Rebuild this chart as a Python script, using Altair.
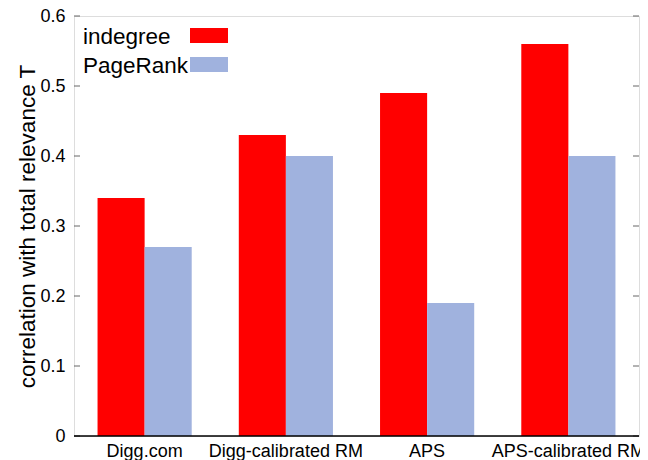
import altair as alt
import pandas as pd

categories = ["Digg.com", "Digg-calibrated RM", "APS", "APS-calibrated RM"]
series = ["indegree", "PageRank"]
indegree = [0.34, 0.43, 0.49, 0.56]
pagerank = [0.27, 0.40, 0.19, 0.40]
colors = ["#ff0000", "#a0b2de"]
y_ticks = [0, 0.1, 0.2, 0.3, 0.4, 0.5, 0.6]
y_title = "correlation with total relevance T"

W, H = 565, 420
FONT = "Liberation Sans"

rows = []
for c, a, b in zip(categories, indegree, pagerank):
    rows.append({"category": c, "series": series[0], "value": a})
    rows.append({"category": c, "series": series[1], "value": b})
df = pd.DataFrame(rows)
ticks_df = pd.DataFrame({"t": y_ticks})

yscale = alt.Scale(domain=[0, 0.6], nice=False, zero=True)
xscale = alt.Scale(paddingInner=1/3, paddingOuter=1/6)
offscale = alt.Scale(paddingInner=0, paddingOuter=0)

bars = alt.Chart(df).mark_bar(strokeWidth=0).encode(
    x=alt.X("category:N", sort=categories, scale=xscale,
            axis=alt.Axis(title=None, labelAngle=0, ticks=False, domain=False,
                          labelFontSize=18, labelFont=FONT, labelColor="black",
                          labelPadding=6)),
    xOffset=alt.XOffset("series:N", sort=series, scale=offscale),
    y=alt.Y("value:Q", scale=yscale,
            axis=alt.Axis(values=y_ticks, format=".1~f", ticks=False, domain=False,
                          grid=False, labelFontSize=18, labelFont=FONT,
                          labelColor="black", labelPadding=9,
                          title=y_title, titleFontSize=22.5, titleFont=FONT,
                          titleFontWeight="normal", titleColor="black",
                          titlePadding=0)),
    color=alt.Color("series:N", sort=series,
                    scale=alt.Scale(domain=series, range=colors), legend=None),
)

left_ticks = alt.Chart(ticks_df).mark_rule(color="#666", strokeWidth=1).encode(
    y=alt.Y("t:Q", scale=yscale), x=alt.value(0), x2=alt.value(6))
right_ticks = alt.Chart(ticks_df).mark_rule(color="#666", strokeWidth=1).encode(
    y=alt.Y("t:Q", scale=yscale), x=alt.value(W - 6), x2=alt.value(W))

frame_bottom = alt.Chart(ticks_df.head(1)).mark_rule(color="black", strokeWidth=1.3).encode(
    y=alt.value(H), x=alt.value(0), x2=alt.value(W))

layers = [bars, left_ticks, right_ticks, frame_bottom]
for i, (s, col) in enumerate(zip(series, colors)):
    one = pd.DataFrame({"series": [s]})
    layers.append(alt.Chart(one).mark_text(
        align="left", baseline="alphabetic", fontSize=22.5, font=FONT, color="black"
    ).encode(text="series:N", x=alt.value(9), y=alt.value(27.5 + 29 * i)))
    layers.append(alt.Chart(one).mark_rect(color=col).encode(
        x=alt.value(116), x2=alt.value(154),
        y=alt.value(12 + 29 * i), y2=alt.value(27 + 29 * i)))

chart = alt.layer(*layers).properties(
    width=W, height=H,
    autosize=alt.AutoSizeParams(type="none"),
    padding={"left": 66, "top": 8, "right": 1, "bottom": 24},
).configure_view(stroke="black", strokeWidth=1.3).configure(background="white")

chart.save("out.html", embed_options={"renderer": "svg", "actions": False})
